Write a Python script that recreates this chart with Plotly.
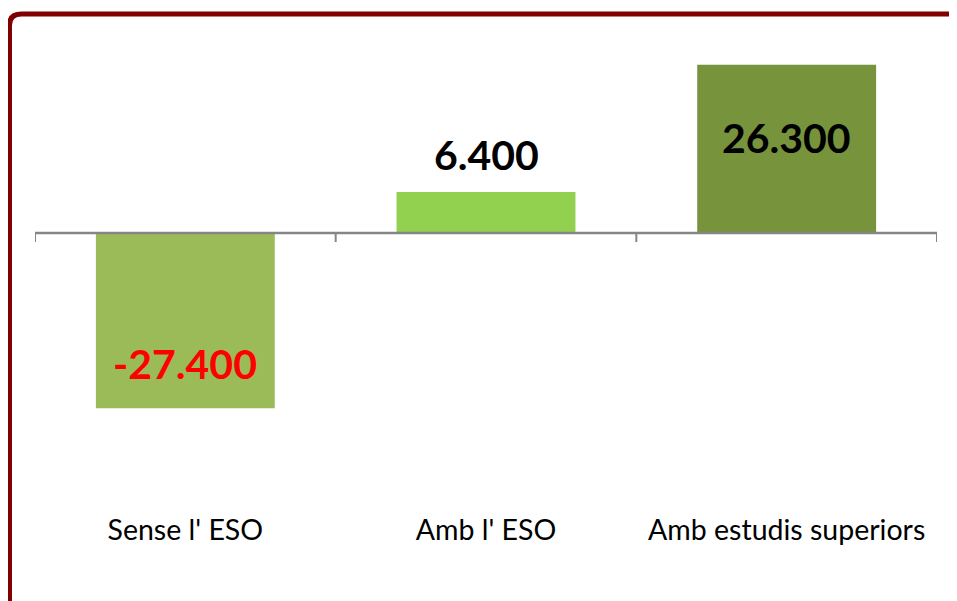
import plotly.graph_objects as go

categories = ["Sense l' ESO", "Amb l' ESO", "Amb estudis superiors"]
values = [-27400, 6400, 26300]
value_labels = ["-27.400", "6.400", "26.300"]

bar_colors = ["#9BBB59", "#92D050", "#77933C"]
label_colors = ["#FF0000", "#000000", "#000000"]
label_shift_px = [45, 38, -73]

fig = go.Figure()
fig.add_trace(go.Bar(
    x=categories, y=values,
    marker=dict(color=bar_colors, line=dict(width=0)),
    width=0.595, hoverinfo="skip",
))

for c, v, t, col, s in zip(categories, values, value_labels, label_colors, label_shift_px):
    fig.add_annotation(
        x=c, y=v, xref="x", yref="y", text=f"<b>{t}</b>", showarrow=False,
        yanchor="middle", yshift=s,
        font=dict(family="Lato", size=41, color=col),
    )

# zero line (category axis line)
fig.add_shape(type="line", xref="paper", yref="y", x0=0, x1=1, y0=0, y1=0,
              line=dict(color="#868686", width=2.5), layer="above")
# tick marks at category boundaries
for i in range(len(categories) + 1):
    fig.add_shape(type="line", xref="x", yref="y", x0=i - 0.5, x1=i - 0.5,
                  ysizemode="pixel", yanchor=0, y0=1, y1=-9,
                  line=dict(color="#868686", width=2), layer="above")

# dark red frame (top and left edges visible)
fig.add_shape(type="path", xref="paper", yref="paper",
              path="M -0.0283,-0.3 L -0.0283,1.035 Q -0.0283,1.06 -0.015,1.06 L 1.1,1.06",
              line=dict(color="#800000", width=5), layer="above")

fig.update_layout(
    width=941, height=593,
    margin=dict(l=27, r=12, t=33, b=112, pad=0),
    paper_bgcolor="#FFFFFF", plot_bgcolor="#FFFFFF",
    showlegend=False, bargap=0.405,
    font=dict(family="Lato", color="#000000"),
    xaxis=dict(
        type="category", range=[-0.5, 2.5], showline=False, showgrid=False,
        zeroline=False, ticks="", tickfont=dict(family="Lato", size=28.5, color="#000000"),
        ticklabelstandoff=21, fixedrange=True,
    ),
    yaxis=dict(
        range=[-40000, 30000], visible=False, showgrid=False, zeroline=False,
        fixedrange=True,
    ),
)

fig.write_html("out.html")
